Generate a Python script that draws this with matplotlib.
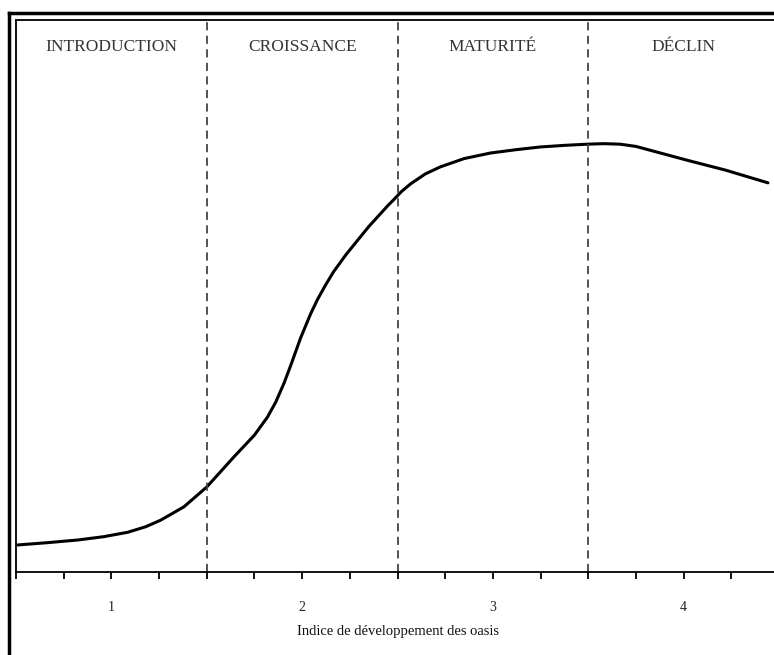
import numpy as np
import matplotlib.pyplot as plt
from matplotlib.lines import Line2D

plt.rcParams["font.family"] = ["Liberation Serif", "DejaVu Serif"]

# courbe (indice, niveau relatif)
indice = [0.51, 0.66, 0.825, 0.96, 1.086, 1.18, 1.259, 1.38, 1.5, 1.641, 1.75, 1.819,
          1.862, 1.905, 1.94, 1.992, 2.045, 2.081, 2.123, 2.165, 2.228, 2.291, 2.35,
          2.40, 2.45, 2.479, 2.52, 2.568, 2.645, 2.725, 2.85,
          2.987, 3.12, 3.249, 3.38, 3.495, 3.58, 3.668, 3.75, 3.825, 4.018, 4.22, 4.442]
niveau = [4.9, 5.3, 5.8, 6.4, 7.2, 8.2, 9.4, 11.8, 15.4, 20.8, 24.8, 28.1,
          30.8, 34.2, 37.4, 42.4, 46.8, 49.4, 52.0, 54.4, 57.4, 60.1, 62.6,
          64.5, 66.4, 67.4, 68.9, 70.3, 72.1, 73.4, 74.9,
          75.9, 76.5, 77.0, 77.3, 77.5, 77.6, 77.5, 77.1, 76.4, 74.6, 72.8, 70.5]
phases = ["INTRODUCTION", "CROISSANCE", "MATURITÉ", "DÉCLIN"]
phase_centres = [1, 2, 3, 4]
limites = [1.5, 2.5, 3.5]

fig = plt.figure(figsize=(7.74, 6.55), dpi=100)
ax = fig.add_axes([16/774, 83/655, 763/774, 552/655])

ax.plot(indice, niveau, color="black", lw=2.2, solid_capstyle="round",
        solid_joinstyle="round")
for xl in limites:
    ax.axvline(xl, color="#444444", lw=1.3, ls=(0, (4.5, 3)))
for name, xc in zip(phases, phase_centres):
    ax.text(xc, 0.951, name, transform=ax.get_xaxis_transform(), ha="center",
            va="center", fontsize=12.5, color="#333333")

ax.set_xlim(0.5, 4.5)
ax.set_ylim(0, 100)
ax.set_yticks([])
ax.set_xticks(phase_centres)
ax.set_xticklabels([str(c) for c in phase_centres])
ax.set_xticks([v for v in np.arange(0.5, 4.5, 0.25) if v not in phase_centres], minor=True)
ax.tick_params(axis="x", which="both", direction="out", length=5, width=1.3, color="black")
ax.tick_params(axis="x", which="major", pad=16, labelsize=10, labelcolor="#222222")
ax.set_xlabel("Indice de développement des oasis", fontsize=10.5, labelpad=8,
              color="#111111")
for s in ax.spines.values():
    s.set_linewidth(1.3)

# cadre extérieur
fig.add_artist(Line2D([9/774, 9/774], [0, 1 - 13/655], transform=fig.transFigure,
                      color="black", lw=2.5))
fig.add_artist(Line2D([9/774, 1], [1 - 13/655, 1 - 13/655], transform=fig.transFigure,
                      color="black", lw=2.5))

fig.savefig("out.png", dpi=100)
